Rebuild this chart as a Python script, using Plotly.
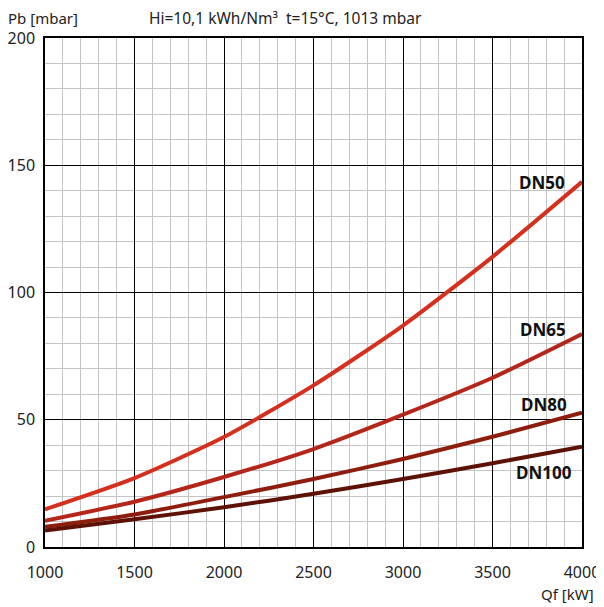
import plotly.graph_objects as go

qf = [1000, 1500, 2000, 2500, 3000, 3500, 4000]
dn50 = [14.8, 27.1, 43.2, 63.5, 87.0, 114.0, 143.5]
dn65 = [10.3, 17.8, 27.5, 38.5, 52.0, 66.5, 83.7]
dn80 = [7.9, 12.8, 19.6, 26.7, 34.6, 43.3, 52.8]
dn100 = [6.5, 10.9, 15.6, 20.9, 26.7, 32.9, 39.4]
names = ["DN50", "DN65", "DN80", "DN100"]
series = [dn50, dn65, dn80, dn100]
colors = ["#d5301e", "#b5261a", "#8e1d0e", "#5e1206"]
label_x = [3915, 3920, 3925, 3955]
label_y = [143.2, 85.3, 55.8, 29.1]

FONT = "Noto Sans, Lato, sans-serif"
fig = go.Figure()
for n, s, c in zip(names, series, colors):
    fig.add_trace(go.Scatter(x=qf, y=s, mode="lines", name=n,
                             line=dict(color=c, width=4, shape="spline", smoothing=0.6)))

for n, lx, ly in zip(names, label_x, label_y):
    fig.add_annotation(x=lx, y=ly, text=f"<b>{n}</b>", showarrow=False,
                       xanchor="right", yanchor="middle",
                       font=dict(size=17, color="#111", family=FONT))

fig.add_annotation(xref="paper", yref="paper", x=-0.072, y=1.04, text="Pb [mbar]",
                   showarrow=False, xanchor="left", yanchor="middle",
                   font=dict(size=15, color="#222", family=FONT))
fig.add_annotation(xref="paper", yref="paper", x=0.19, y=1.04,
                   text="Hi=10,1 kWh/Nm³  t=15°C, 1013 mbar",
                   showarrow=False, xanchor="left", yanchor="middle",
                   font=dict(size=15.5, color="#222", family=FONT))
fig.add_annotation(xref="paper", yref="paper", x=1.026, y=-0.092, text="Qf [kW]",
                   showarrow=False, xanchor="right", yanchor="middle",
                   font=dict(size=15, color="#222", family=FONT))

# page body has an 8px margin: size/margins compensate so the plot sits where the reference has it
fig.update_layout(
    width=596, height=599,
    margin=dict(l=37, r=22, t=30, b=60),
    paper_bgcolor="white", plot_bgcolor="white",
    showlegend=False,
    font=dict(family=FONT, size=16, color="#222"),
)
fig.update_xaxes(range=[1000, 4000], dtick=500, tick0=1000, showgrid=True,
                 gridcolor="#000", gridwidth=1.3, automargin=False,
                 minor=dict(dtick=100, showgrid=True, gridcolor="#c4c4c4", gridwidth=1.3),
                 showline=True, linecolor="#000", linewidth=1.5, mirror=True,
                 zeroline=False, ticks="", ticklabelstandoff=10,
                 tickfont=dict(size=16, color="#222"))
fig.update_yaxes(range=[0, 200], dtick=50, tick0=0, showgrid=True,
                 gridcolor="#000", gridwidth=1.3, automargin=False,
                 minor=dict(dtick=10, showgrid=True, gridcolor="#c4c4c4", gridwidth=1.3),
                 showline=True, linecolor="#000", linewidth=1.5, mirror=True,
                 zeroline=False, ticks="", ticklabelstandoff=5,
                 tickfont=dict(size=16, color="#222"))

fig.write_html("out.html")
